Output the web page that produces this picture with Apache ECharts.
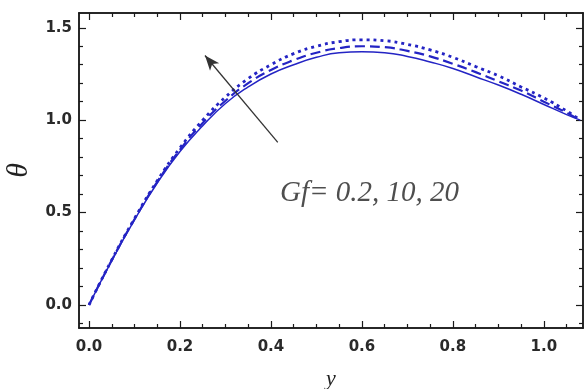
<!DOCTYPE html>
<html>
<head>
<meta charset="utf-8">
<script src="https://cdn.jsdelivr.net/npm/echarts@6/dist/echarts.min.js"></script>
<style>
  html, body { margin: 0; padding: 0; background: #fff; }
  #chart { width: 585px; height: 389px; }
</style>
</head>
<body>
<div id="chart"></div>
<script>
const yPos = [0, 0.05, 0.1, 0.15, 0.2, 0.25, 0.3, 0.35, 0.4, 0.45, 0.5, 0.55,
  0.6, 0.65, 0.7, 0.75, 0.8, 0.85, 0.9, 0.95, 1.0, 1.05, 1.08];
// Gf = 0.2 (solid)
const thetaGf02 = [0, 0.24, 0.46, 0.66, 0.83, 0.97, 1.09, 1.18, 1.25, 1.30, 1.34, 1.365,
  1.37, 1.365, 1.345, 1.315, 1.28, 1.235, 1.19, 1.14, 1.085, 1.03, 1.0];
// Gf = 10 (dashed)
const thetaGf10 = [0, 0.242, 0.464, 0.666, 0.84, 0.985, 1.105, 1.2, 1.272, 1.325, 1.365, 1.39,
  1.40, 1.395, 1.375, 1.345, 1.305, 1.26, 1.21, 1.16, 1.10, 1.04, 1.0];
// Gf = 20 (dotted)
const thetaGf20 = [0, 0.244, 0.468, 0.672, 0.85, 1.0, 1.125, 1.225, 1.30, 1.36, 1.40, 1.425,
  1.435, 1.43, 1.41, 1.38, 1.34, 1.29, 1.24, 1.18, 1.12, 1.05, 1.0];

const xMajor = [0, 0.2, 0.4, 0.6, 0.8, 1.0];
const xMinor = [0.05, 0.1, 0.15, 0.25, 0.3, 0.35, 0.45, 0.5, 0.55, 0.65, 0.7, 0.75,
  0.85, 0.9, 0.95, 1.05];
const yMajor = [0, 0.5, 1.0, 1.5];
const yMinor = [-0.1, 0.1, 0.2, 0.3, 0.4, 0.6, 0.7, 0.8, 0.9, 1.1, 1.2, 1.3, 1.4];

// arrow (tail -> head) and annotation, in data units
const arrowTail = [0.415, 0.88];
const arrowHead = [0.255, 1.35];
const annotation = 'Gf= 0.2, 10, 20';
const annotationAt = [0.42, 0.606];

const X_MIN = -0.022, X_MAX = 1.086;
const Y_MIN = -0.125, Y_MAX = 1.58;
const BLUE = '#2424c4';
const FRAME = '#1a1a1a';

const labelStyle = {
  fontFamily: 'DejaVu Sans, Verdana, sans-serif',
  fontWeight: 'bold',
  fontSize: 15,
  color: '#2a2a2a',
};

function makeAxis(kind, position, ticks, len, withLabel) {
  const ax = {
    type: 'value',
    position: position,
    min: kind === 'x' ? X_MIN : Y_MIN,
    max: kind === 'x' ? X_MAX : Y_MAX,
    splitLine: { show: false },
    axisLine: { show: true, onZero: false, lineStyle: { color: FRAME, width: 1.5 } },
    axisTick: {
      show: true, inside: true, length: len, customValues: ticks,
      lineStyle: { color: FRAME, width: 1.2 },
    },
    axisLabel: withLabel
      ? Object.assign({ customValues: ticks, margin: kind === 'x' ? 12 : 7,
          formatter: (v) => v.toFixed(1) }, labelStyle)
      : { show: false },
  };
  return ax;
}

const chart = echarts.init(document.getElementById('chart'));

const xAxes = [
  Object.assign(makeAxis('x', 'bottom', xMajor, 7, true), {
    name: 'y', nameLocation: 'middle', nameGap: 40,
    nameTextStyle: { fontFamily: 'Liberation Serif, serif', fontStyle: 'italic', fontSize: 22, color: '#222' },
  }),
  makeAxis('x', 'bottom', xMinor, 4, false),
  makeAxis('x', 'top', xMajor, 7, false),
  makeAxis('x', 'top', xMinor, 4, false),
];
const yAxes = [
  Object.assign(makeAxis('y', 'left', yMajor, 7, true), {
    name: 'θ', nameLocation: 'middle', nameGap: 44, nameRotate: 90,
    nameTextStyle: { fontFamily: 'Liberation Serif, serif', fontStyle: 'italic', fontSize: 30, color: '#222' },
  }),
  makeAxis('y', 'left', yMinor, 4, false),
  makeAxis('y', 'right', yMajor, 7, false),
  makeAxis('y', 'right', yMinor, 4, false),
];

function curve(name, values, lineType, width) {
  return {
    name: name,
    type: 'line',
    xAxisIndex: 0,
    yAxisIndex: 0,
    data: yPos.map((y, i) => [y, values[i]]),
    showSymbol: false,
    symbol: 'none',
    smooth: true,
    lineStyle: { color: BLUE, width: width, type: lineType },
  };
}

const option = {
  animation: false,
  backgroundColor: '#fff',
  grid: { left: 79, right: 2, top: 13, bottom: 61, containLabel: false, outerBoundsMode: 'none' },
  xAxis: xAxes,
  yAxis: yAxes,
  series: [
    curve('Gf=0.2', thetaGf02, 'solid', 1.5),
    curve('Gf=10', thetaGf10, [10, 5], 2.2),
    curve('Gf=20', thetaGf20, [3, 4], 2.8),
    {
      name: 'arrow',
      type: 'line',
      data: [],
      markLine: {
        silent: true,
        symbol: ['none', 'arrow'],
        symbolSize: [9, 15],
        label: { show: false },
        lineStyle: { color: '#333', width: 1.3, type: 'solid' },
        data: [[{ coord: arrowTail }, { coord: arrowHead }]],
      },
    },
    {
      name: 'annotation',
      type: 'scatter',
      symbolSize: 0,
      silent: true,
      data: [annotationAt],
      label: {
        show: true,
        position: 'right',
        distance: 0,
        formatter: annotation,
        fontFamily: 'Liberation Serif, serif',
        fontStyle: 'italic',
        fontSize: 29,
        color: '#222',
      },
    },
  ],
};

chart.setOption(option);
</script>
</body>
</html>
